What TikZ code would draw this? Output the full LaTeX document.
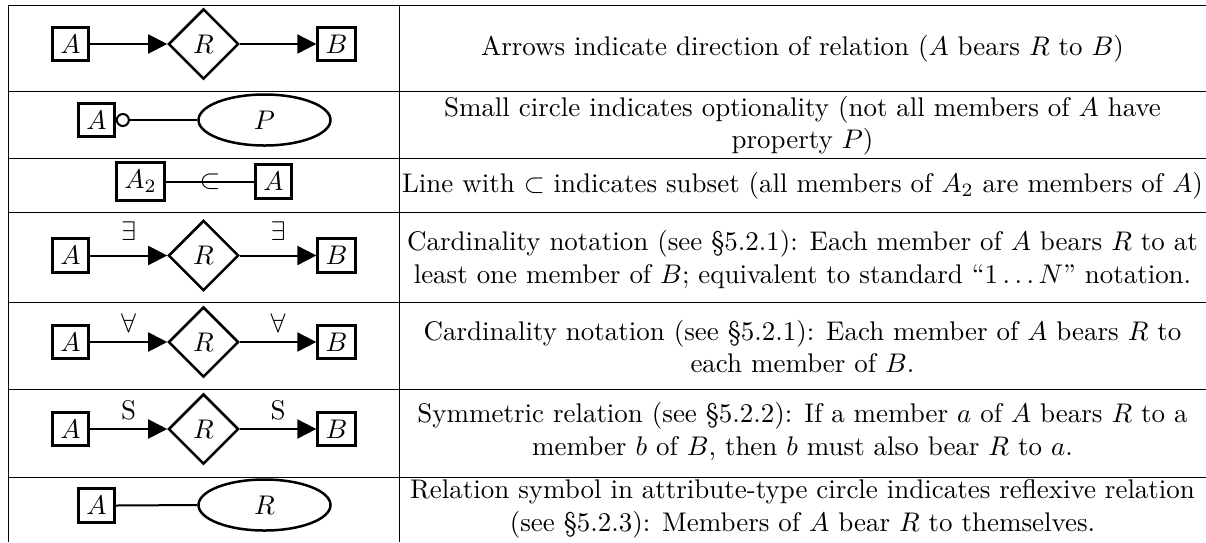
\documentclass[tikz,border=0pt]{standalone}
\usepackage{fix-cm}
\usetikzlibrary{arrows.meta,positioning,shapes.geometric}
\begin{document}
\begin{tikzpicture}[x=0.4pt,y=-0.4pt,font=\fontsize{10.78}{12.95}\selectfont,
ent/.style={draw,line width=1.2pt,inner sep=3.1pt},
rel/.style={draw,diamond,aspect=1,line width=1pt,inner sep=3.1pt},
attr/.style={draw,ellipse,line width=1pt,minimum width=52.8pt,minimum height=20.4pt},
ln/.style={line width=0.8pt},
arr/.style={ln,-{Triangle[length=7.6pt,width=7.6pt]}},
opt/.style={ln,{Circle[open,length=5.6pt]}-},
tabline/.style={line width=0.4pt},
expl/.style={align=center,inner sep=0pt}]
\useasboundingbox (0,0) rectangle (1206,542);
% table rules
\draw[tabline] (1206,5)--(8,5)--(8,542);
\draw[tabline] (399.5,5)--(399.5,542);
\foreach \y in {91,158.5,212.5,302.5,389,477}
  \draw[tabline] (8,\y)--(1206,\y);
% direction
\node[ent] (a1) at (70.5,44) {$A$};
\node[rel] (r1) at (203.5,44) {$R$};
\node[ent] (b1) at (336.5,44) {$B$};
\draw[arr] (a1.east)--(r1.west);
\draw[arr] (r1.east)--(b1.west);
\node[expl] (t1) at (802.5,49) {Arrows indicate direction of relation ($A$ bears $R$ to $B$)};
% optionality
\node[ent] (a2) at (96.5,120) {$A$};
\node[attr] (p2) at (264.5,120) {$P$};
\draw[opt] (a2.east)--(p2.west);
\node[expl] (t2) at (802.5,125.5) {Small circle indicates optionality (not all members of $A$ have\\property $P$)};
% subset
\node[ent] (a3) at (140.5,181.5) {$A_2$};
\node[ent] (b3) at (273.5,181.5) {$A$};
\draw[ln] (a3.east)--node{$\subset$}(b3.west);
\node[expl] (t3) at (802.5,185.5) {Line with $\subset$ indicates subset (all members of $A_2$ are members of $A$)};
% cardinality, at least one
\node[ent] (a4) at (70.5,255.5) {$A$};
\node[rel] (r4) at (203.5,255.5) {$R$};
\node[ent] (b4) at (336.5,255.5) {$B$};
\draw[arr] (a4.east)--node[above=2.2pt]{$\exists$}(r4.west);
\draw[arr] (r4.east)--node[above=2.2pt]{$\exists$}(b4.west);
\node[expl] (t4) at (802.5,259.5) {Cardinality notation (see \S5.2.1): Each member of $A$ bears $R$ to at\\least one member of $B$; equivalent to standard ``$1\ldots N$'' notation.};
% cardinality, each
\node[ent] (a5) at (70.5,342) {$A$};
\node[rel] (r5) at (203.5,342) {$R$};
\node[ent] (b5) at (336.5,342) {$B$};
\draw[arr] (a5.east)--node[above]{$\forall$}(r5.west);
\draw[arr] (r5.east)--node[above]{$\forall$}(b5.west);
\node[expl] (t5) at (802.5,346.5) {Cardinality notation (see \S5.2.1): Each member of $A$ bears $R$ to\\each member of $B$.};
% symmetric
\node[ent] (a6) at (70.5,429) {$A$};
\node[rel] (r6) at (203.5,429) {$R$};
\node[ent] (b6) at (336.5,429) {$B$};
\draw[arr] (a6.east)--node[above]{S}(r6.west);
\draw[arr] (r6.east)--node[above]{S}(b6.west);
\node[expl] (t6) at (802.5,431.5) {Symmetric relation (see \S5.2.2): If a member $a$ of $A$ bears $R$ to a\\member $b$ of $B$, then $b$ must also bear $R$ to $a$.};
% reflexive
\node[ent] (a7) at (96.5,505.5) {$A$};
\node[attr] (r7) at (264.5,505) {$R$};
\draw[ln] (a7.east)--(r7.west);
\node[expl] (t7) at (802.5,509) {Relation symbol in attribute-type circle indicates reflexive relation\\(see \S5.2.3): Members of $A$ bear $R$ to themselves.};
\end{tikzpicture}
\end{document}
